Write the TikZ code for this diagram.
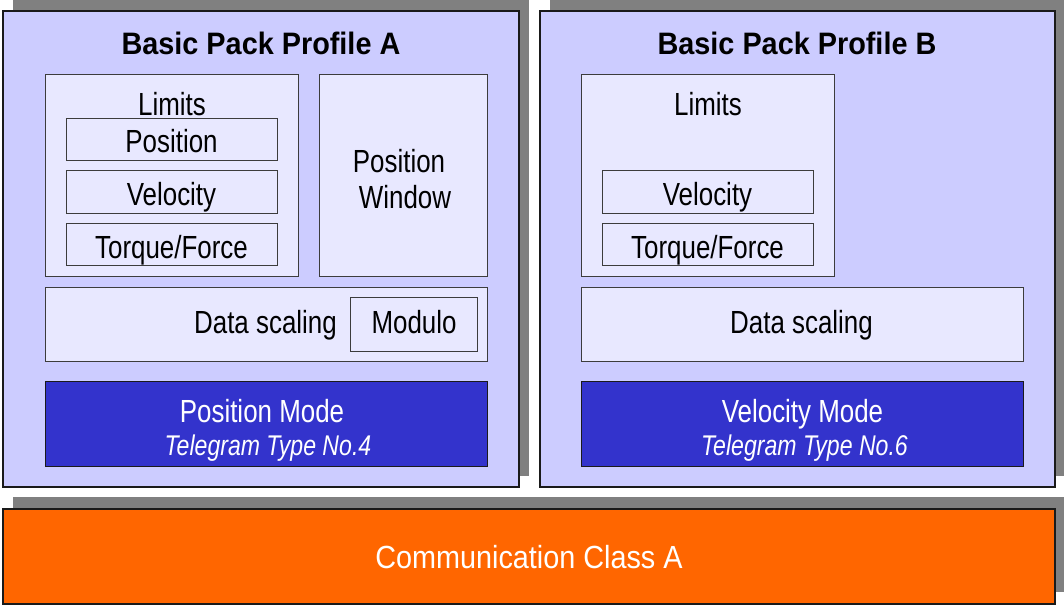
\documentclass[tikz,border=0pt]{standalone}
\usepackage{fontspec}
\setmainfont{Liberation Sans}[FakeStretch=0.81]
\newfontfamily\titlefont{Liberation Sans}[FakeStretch=0.93]
\newfontfamily\commfont{Liberation Sans}[FakeStretch=0.90]
\usetikzlibrary{shadows}
\definecolor{outerfill}{HTML}{CCCCFF}
\definecolor{innerfill}{HTML}{E8E8FF}
\definecolor{modefill}{HTML}{3333CC}
\definecolor{commfill}{HTML}{FF6600}
\definecolor{shadowgray}{HTML}{808080}
\definecolor{edge}{HTML}{1A1A1A}
\tikzset{
  px/.style={x=1pt,y=-1pt},
  boxat/.style={anchor=north west,inner sep=0pt,outer sep=0pt},
  outerbox/.style={boxat,draw=edge,line width=1.6pt,fill=outerfill,
    drop shadow={shadow xshift=10pt,shadow yshift=11pt,fill=shadowgray,opacity=1}},
  innerbox/.style={boxat,draw=edge!85,line width=1pt,fill=innerfill},
  subbox/.style={boxat,draw=edge!85,line width=1pt,fill=innerfill},
  modebox/.style={boxat,draw=edge,line width=1pt,fill=modefill},
  commbox/.style={boxat,draw=edge,line width=1.6pt,fill=commfill,
    drop shadow={shadow xshift=10pt,shadow yshift=12pt,fill=shadowgray,opacity=1}},
  title/.style={font=\titlefont\fontsize{31}{33}\selectfont\bfseries,inner sep=0pt,anchor=base},
  txt/.style={font=\fontsize{32}{34}\selectfont,inner sep=0pt,anchor=base},
  wtxt/.style={txt,text=white},
  itxt/.style={font=\fontsize{28.5}{30}\selectfont\itshape,inner sep=0pt,text=white,anchor=base},
  ctxt/.style={font=\commfont\fontsize{32}{34}\selectfont,inner sep=0pt,text=white,anchor=base},
}
\begin{document}
\begin{tikzpicture}[px]
\useasboundingbox (0,0) rectangle (1064,605);
% Profile A
\node[outerbox,minimum width=516pt,minimum height=476pt] (profA) at (3,11) {};
\node[title] (titleA) at (261,54) {Basic Pack Profile A};
\node[innerbox,minimum width=253pt,minimum height=202pt] (limA) at (45,74) {};
\node[txt] (limAt) at (172,115) {Limits};
\node[subbox,minimum width=211pt,minimum height=42pt] (posA) at (66,118) {};
\node[txt] (posAt) at (171.5,152.5) {Position};
\node[subbox,minimum width=211pt,minimum height=43pt] (velA) at (66,170) {};
\node[txt] (velAt) at (171.5,205) {Velocity};
\node[subbox,minimum width=211pt,minimum height=42pt] (torA) at (66,223) {};
\node[txt] (torAt) at (171.5,258) {Torque/Force};
\node[innerbox,minimum width=168pt,minimum height=202pt] (winA) at (319,74) {};
\node[txt] (winAt1) at (399,172) {Position};
\node[txt] (winAt2) at (405,208) {Window};
\node[innerbox,minimum width=442pt,minimum height=74pt] (dsA) at (45,287) {};
\node[txt,anchor=base east] (dsAt) at (337,333) {Data scaling};
\node[subbox,minimum width=127pt,minimum height=54pt] (modA) at (350,297) {};
\node[txt] (modAt) at (414,333) {Modulo};
\node[modebox,minimum width=442pt,minimum height=85pt] (pmA) at (45,381) {};
\node[wtxt] (pmAt) at (262,422) {Position Mode};
\node[itxt] (pmAi) at (268,455) {Telegram Type No.4};
% Profile B
\node[outerbox,minimum width=515pt,minimum height=476pt] (profB) at (540,11) {};
\node[title] (titleB) at (797,54) {Basic Pack Profile B};
\node[innerbox,minimum width=253pt,minimum height=202pt] (limB) at (581,74) {};
\node[txt] (limBt) at (708,115) {Limits};
\node[subbox,minimum width=211pt,minimum height=43pt] (velB) at (602,170) {};
\node[txt] (velBt) at (707.5,205) {Velocity};
\node[subbox,minimum width=211pt,minimum height=42pt] (torB) at (602,223) {};
\node[txt] (torBt) at (707.5,258) {Torque/Force};
\node[innerbox,minimum width=442pt,minimum height=74pt] (dsB) at (581,287) {};
\node[txt] (dsBt) at (801.5,333) {Data scaling};
\node[modebox,minimum width=442pt,minimum height=85pt] (vmB) at (581,381) {};
\node[wtxt] (vmBt) at (802.5,422) {Velocity Mode};
\node[itxt] (vmBi) at (804.5,455) {Telegram Type No.6};
% Communication
\node[commbox,minimum width=1052pt,minimum height=95pt] (comm) at (3,509) {};
\node[ctxt] (commt) at (529,568) {Communication Class A};
\end{tikzpicture}
\end{document}
